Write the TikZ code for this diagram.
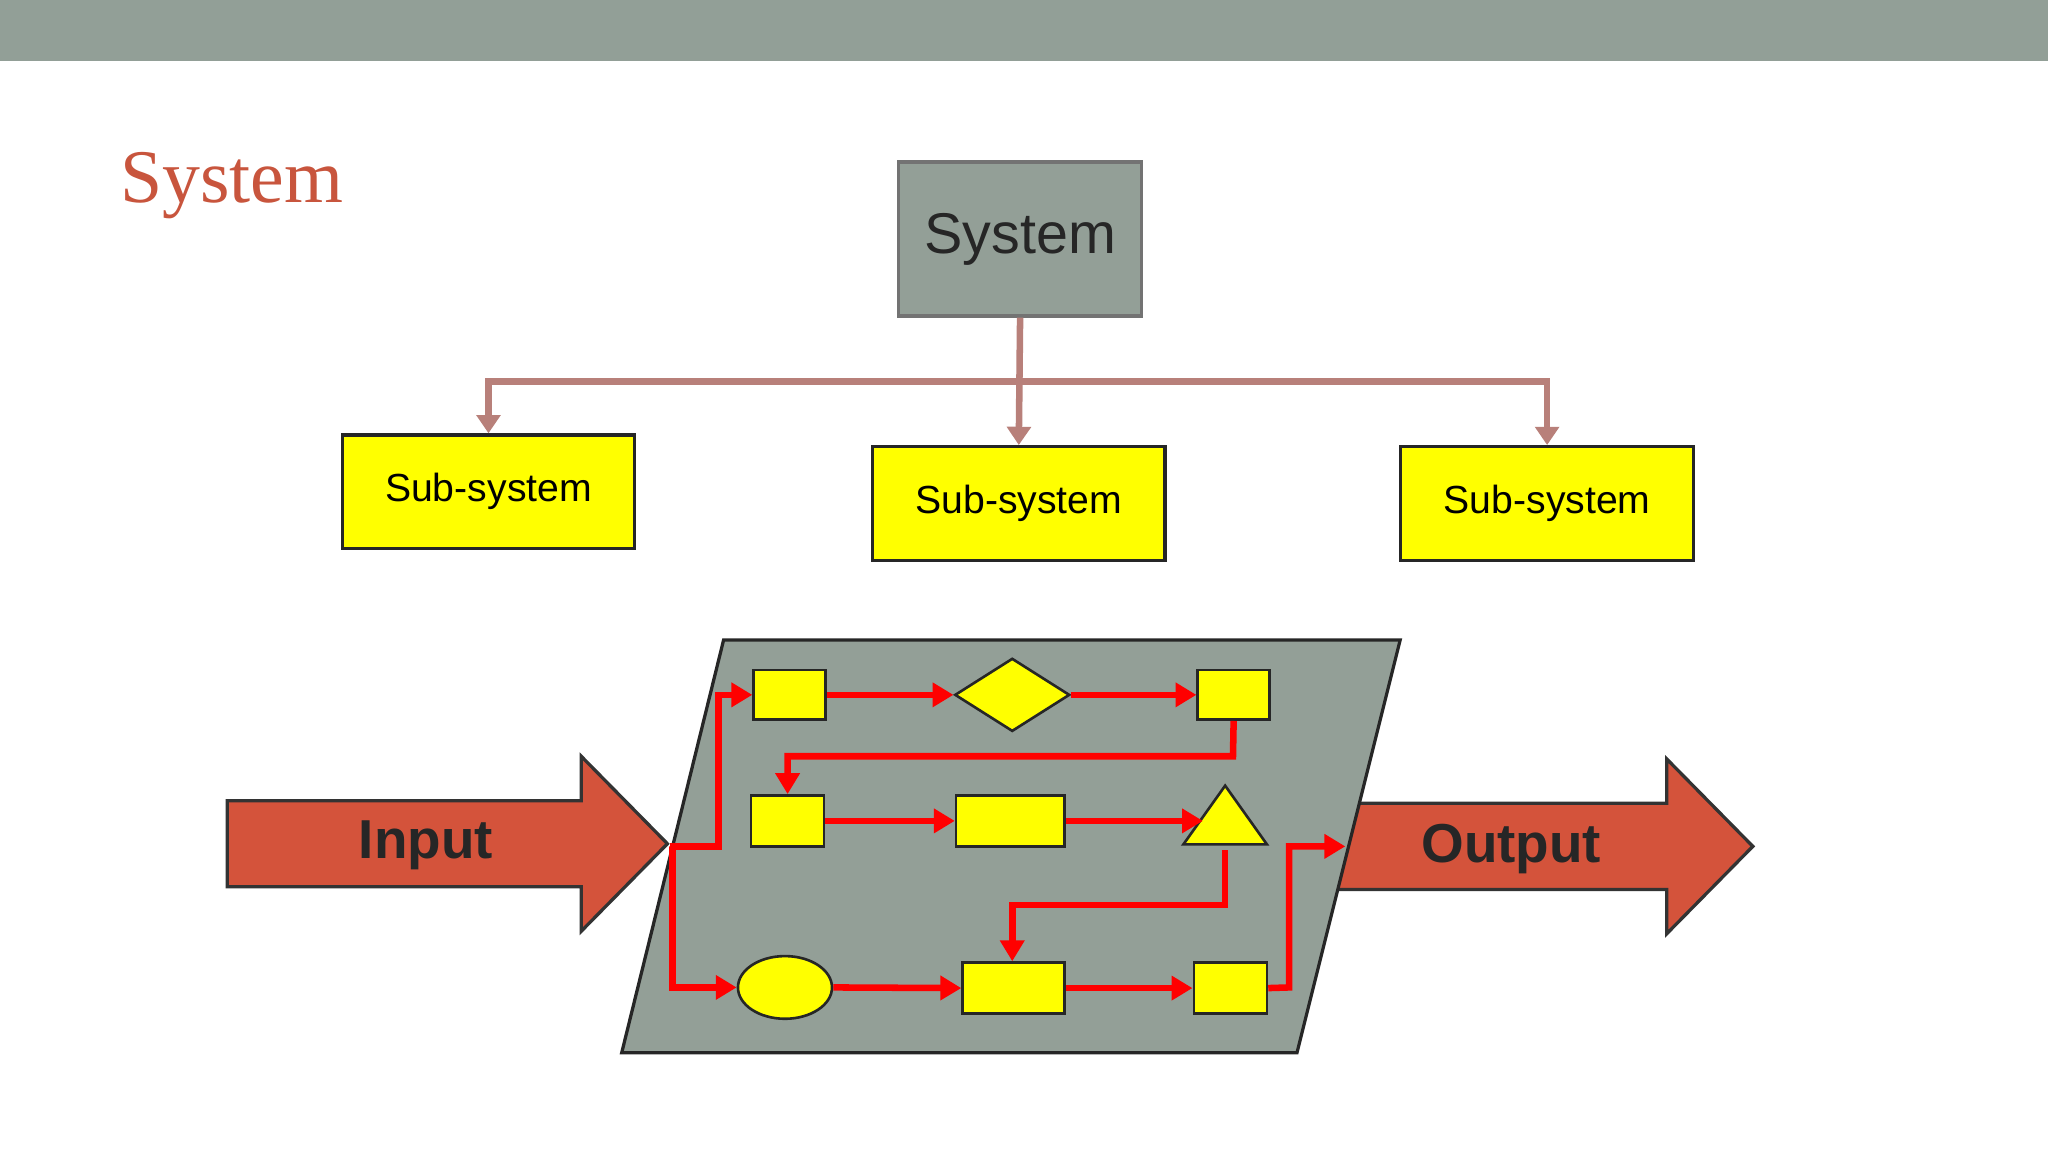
\documentclass[tikz,border=0pt]{standalone}
\usepackage{fontspec}
\setmainfont{Liberation Sans}
\newfontfamily\serifttl{Liberation Serif}
\usetikzlibrary{shapes.geometric,arrows.meta}
\definecolor{bar}{HTML}{929F97}
\definecolor{sysg}{HTML}{939F97}
\definecolor{ttl}{HTML}{C8553D}
\definecolor{brn}{HTML}{B8807A}
\definecolor{arr}{HTML}{D4533B}
\definecolor{yel}{HTML}{FFFF00}
\begin{document}
\begin{tikzpicture}[x=1pt,y=-1pt,
 sub/.style={draw=black!85,line width=2.5pt,fill=yel,minimum width=224pt,minimum height=87pt,inner sep=0pt,font=\fontsize{30}{34}\selectfont},
 yb/.style={draw=black!85,line width=2pt,fill=yel,inner sep=0pt},
 br/.style={draw=brn,line width=5pt,-{Triangle[length=14pt,width=18pt]}},
 rd/.style={draw=red,line width=5pt,-{Triangle[length=16pt,width=18pt]}}]
\useasboundingbox (0,0) rectangle (1568,882);
\fill[bar] (0,0) rectangle (1568,47);
\node[anchor=base west,text=ttl,font=\serifttl\fontsize{58}{62}\selectfont,inner sep=0pt] (title) at (92,155) {System};
\node[draw=black!55,line width=2.5pt,fill=sysg,minimum width=186pt,minimum height=118pt,font=\fontsize{44}{50}\selectfont,text=black!85] (sys) at (781,183) {System};
\node[sub] (s1) at (374,376.5) {Sub-system};
\node[sub] (s2) at (780,385.5) {Sub-system};
\node[sub] (s3) at (1184.5,385.5) {Sub-system};
\coordinate (j) at (781,292);
\draw[br] (sys.south) -- (s2.north);
\draw[br] (j) -| (s1.north);
\draw[br] (j) -| (s3.north);
% output arrow (behind)
\draw[draw=black!80,line width=2.5pt,fill=arr] (1020,615) -- (1276,615) -- (1276,581) -- (1342,648) -- (1276,715) -- (1276,681) -- (1020,681) -- cycle;
\node[font=\bfseries\fontsize{42}{48}\selectfont,text=black!85] (out) at (1157,650) {Output};
% parallelogram
\draw[draw=black!85,line width=2.5pt,fill=sysg] (554,490) -- (1072,490) -- (993,806) -- (476,806) -- cycle;
% input arrow
\draw[draw=black!80,line width=2.5pt,fill=arr] (174,613) -- (445,613) -- (445,579) -- (511,646) -- (445,713) -- (445,679) -- (174,679) -- cycle;
\node[font=\bfseries\fontsize{42}{48}\selectfont,text=black!85] (in) at (326,647) {Input};
\coordinate (tip) at (513,648);
% inner shapes
\node[yb,minimum width=55pt,minimum height=38pt] (r1) at (604.5,532) {};
\node[yb,diamond,aspect=1.6,minimum width=88pt,minimum height=56pt] (d) at (775,532) {};
\node[yb,minimum width=55pt,minimum height=38pt] (r3) at (944.5,532) {};
\node[yb,minimum width=56pt,minimum height=39pt] (r4) at (603,628.5) {};
\node[yb,minimum width=83pt,minimum height=39pt] (r5) at (773.5,628.5) {};
\node[yb,isosceles triangle,shape border rotate=90,isosceles triangle stretches,minimum width=64pt,minimum height=45pt] (tri) at (938,630) {};
\node[yb,ellipse,minimum width=72pt,minimum height=48pt] (el) at (601,756) {};
\node[yb,minimum width=78pt,minimum height=39pt] (r6) at (776,756.5) {};
\node[yb,minimum width=56pt,minimum height=39pt] (r7) at (942,756.5) {};
% red connectors
\draw[rd] (tip) -- (550,648) -- (550,532) -- (r1.west);
\draw[rd] (tip) -- (515,648) -- (515,756) -- (el.west);
\draw[rd] (r1.east) -- (d.west);
\draw[rd] (d.east) -- (r3.west);
\draw[rd] (r3.south) -- (944,579) -- (603,579) -- (r4.north);
\draw[rd] (r4.east) -- (r5.west);
\draw[rd] (r5.east) -- (921,628.5);
\draw[rd] (938,651) -- (938,693) -- (775,693) -- (r6.north -| 775,0);
\draw[rd] (el.east) -- (r6.west);
\draw[rd] (r6.east) -- (r7.west);
\draw[rd] (r7.east) -- (987,756) -- (987,648) -- (1030,648);
\end{tikzpicture}
\end{document}
